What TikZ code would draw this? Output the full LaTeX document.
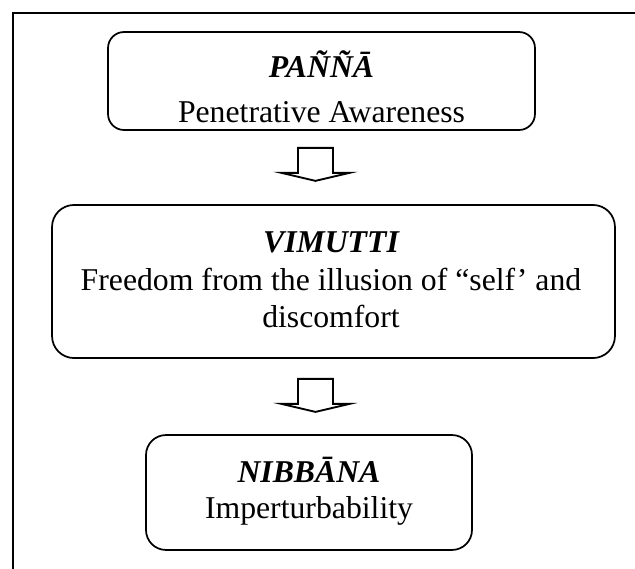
\documentclass[tikz,border=0pt]{standalone}
\usepackage{fontspec}
\setmainfont{Liberation Serif}
\usetikzlibrary{positioning, calc}
\tikzstyle{stage} = [rectangle, draw=black, line width=0.65pt, inner sep=0pt]
\tikzstyle{term} = [anchor=base, inner sep=0pt, font=\fontsize{11.9}{14}\selectfont\bfseries\itshape]
\tikzstyle{gloss} = [anchor=base, inner sep=0pt, font=\fontsize{11.9}{14}\selectfont]
\tikzstyle{flow} = [line width=0.7pt, fill=white, line join=miter]
% hollow block arrow, top centre given
\newcommand{\flowarrow}[1]{\draw[flow] ($#1+(-17.5,0)$) -- ++(35,0) -- ++(0,25) -- ++(16.5,0) -- ++(-34,8) -- ++(-34,-8) -- ++(16.5,0) -- cycle;}

\begin{document}
\begin{tikzpicture}[x=0.375pt, y=-0.375pt]
  \useasboundingbox (0,0) rectangle (635,569);
  \draw[line width=0.75pt] (13,569) -- (13,13) -- (635,13);

  \node[stage, rounded corners=6pt, minimum width=160.1pt, minimum height=36.75pt] (panna) at (321.5,81) {};
  \node[term] (pannaT) at (321.5,77) {PAÑÑĀ};
  \node[gloss] (pannaG) at (321.5,122) {Penetrative Awareness};

  \node[stage, rounded corners=8.25pt, minimum width=211.1pt, minimum height=57.4pt] (vimutti) at (333.5,281.5) {};
  \node[term] (vimuttiT) at (331,252) {VIMUTTI};
  \node[gloss] (vimuttiG) at (331,290) {Freedom from the illusion of “self’ and};
  \node[gloss] (vimuttiH) at (331,327) {discomfort};

  \node[stage, rounded corners=7.5pt, minimum width=122.25pt, minimum height=43.1pt] (nibbana) at (309,492.5) {};
  \node[term] (nibbanaT) at (309,482) {NIBBĀNA};
  \node[gloss] (nibbanaG) at (309,518) {Imperturbability};

  \coordinate (step1) at ($(panna.south)+(-6,17)$);
  \coordinate (step2) at ($(vimutti.south)+(-18,20)$);
  \flowarrow{(step1)}
  \flowarrow{(step2)}
\end{tikzpicture}
\end{document}
